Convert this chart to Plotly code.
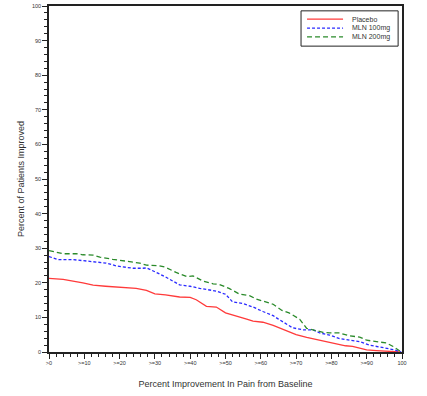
import plotly.graph_objects as go

placebo_x = [0, 4, 9.6, 12.5, 16, 21, 24.7, 27.6, 30, 33, 37, 40, 41.7, 44.6, 47.4, 50, 53, 56, 57.8, 60.6, 63.5, 66, 70, 73, 75.7, 78.6, 81.4, 84, 86, 88, 90, 92.7, 96.5, 99.5]
placebo_y = [21.3, 21.0, 20.0, 19.3, 19.0, 18.6, 18.4, 17.8, 16.8, 16.5, 15.9, 15.8, 15.1, 13.2, 13.0, 11.3, 10.5, 9.5, 8.9, 8.6, 7.7, 6.7, 5.0, 4.2, 3.6, 3.0, 2.2, 1.8, 1.6, 1.0, 0.6, 0.4, 0.2, 0.0]

mln100_x = [0, 2.5, 6.8, 10.6, 14.4, 16.2, 19, 23.8, 26.6, 27.6, 30.4, 33, 37, 40, 42.7, 45.5, 47.4, 50, 52, 55, 57.8, 60.6, 63.5, 65, 67, 69, 72, 74.8, 76.7, 79.5, 82.3, 85, 88, 90.8, 94.6, 97.5, 99.8]
mln100_y = [27.6, 26.7, 26.7, 26.3, 25.9, 25.7, 24.9, 24.2, 24.2, 24.3, 23.0, 21.7, 19.4, 19.0, 18.4, 17.8, 17.6, 16.7, 14.5, 14.0, 13.0, 11.7, 10.5, 9.5, 8.2, 7.0, 6.4, 6.4, 5.5, 4.9, 3.9, 3.4, 3.0, 2.0, 1.3, 0.7, 0.0]

mln200_x = [0, 4, 7.7, 9.6, 12.5, 14.4, 18, 21, 25.7, 27.6, 31.3, 33, 36, 39, 40.8, 43.6, 46.5, 48.3, 51, 54, 56.8, 58.7, 61.5, 63.5, 66, 68, 71, 73, 74.8, 77.6, 79.5, 82.3, 85, 88, 90, 93.7, 95.6, 97.5, 99.8]
mln200_y = [29.3, 28.4, 28.4, 28.1, 28.0, 27.4, 26.8, 26.3, 25.7, 25.1, 24.9, 24.5, 23.0, 21.8, 22.0, 20.5, 19.7, 19.5, 18.4, 16.7, 16.3, 15.3, 14.5, 13.8, 12.0, 11.3, 9.5, 6.8, 6.4, 5.7, 5.5, 5.5, 4.7, 4.3, 3.4, 3.0, 2.6, 1.6, 0.0]

x_tickvals = [0, 10, 20, 30, 40, 50, 60, 70, 80, 90, 100]
x_ticktext = [">0", ">=10", ">=20", ">=30", ">=40", ">=50", ">=60", ">=70", ">=80", ">=90", "100"]
y_tickvals = [0, 10, 20, 30, 40, 50, 60, 70, 80, 90, 100]

series_names = ["Placebo", "MLN 100mg", "MLN 200mg"]
series_colors = ["#ff3a3a", "#2a2aff", "#2a8a2a"]
series_dashes = ["solid", "3px,2px", "5px,3px"]
series_x = [placebo_x, mln100_x, mln200_x]
series_y = [placebo_y, mln100_y, mln200_y]

fig = go.Figure()
for name, xs, ys, col, dash in zip(series_names, series_x, series_y, series_colors, series_dashes):
    fig.add_trace(go.Scatter(x=xs, y=ys, mode="lines", name=name, showlegend=False,
                             line=dict(color=col, width=1.3, dash=dash)))

font_family = "Liberation Sans, Arial, sans-serif"

# Compact legend box (drawn in paper coordinates)
fig.add_shape(type="rect", xref="paper", yref="paper", x0=0.714, x1=0.989, y0=0.884, y1=0.986,
              line=dict(color="#222222", width=1), fillcolor="white")
legend_ys = [0.962, 0.936, 0.911]
for name, col, dash, ly in zip(series_names, series_colors, series_dashes, legend_ys):
    fig.add_shape(type="line", xref="paper", yref="paper", x0=0.731, x1=0.833, y0=ly, y1=ly,
                  line=dict(color=col, width=1.3, dash=dash))
    fig.add_annotation(xref="paper", yref="paper", x=0.853, y=ly, text=name, showarrow=False,
                       xanchor="left", yanchor="middle", font=dict(size=7, family=font_family, color="#333333"))

fig.update_layout(
    width=427, height=396,
    margin=dict(l=49, r=25, t=6, b=44),
    paper_bgcolor="white", plot_bgcolor="white",
    font=dict(family=font_family, color="#333333"),
    showlegend=False,
    xaxis=dict(range=[0, 100], tickmode="array", tickvals=x_tickvals, ticktext=x_ticktext,
               tickfont=dict(size=5.5), ticks="outside", ticklen=5, tickcolor="#222222",
               showline=True, linecolor="#222222", linewidth=1.5, mirror=True,
               showgrid=False, zeroline=False, automargin=False,
               minor=dict(tickmode="linear", tick0=0, dtick=2, ticks="outside", ticklen=3, tickcolor="#222222"),
               title=dict(text="Percent Improvement In Pain from Baseline", font=dict(size=9), standoff=15)),
    yaxis=dict(range=[0, 100], tickmode="array", tickvals=y_tickvals,
               tickfont=dict(size=5.5), ticks="outside", ticklen=5, tickcolor="#222222",
               showline=True, linecolor="#222222", linewidth=1.5, mirror=True,
               showgrid=False, zeroline=False, automargin=False,
               minor=dict(tickmode="linear", tick0=0, dtick=2, ticks="outside", ticklen=3, tickcolor="#222222"),
               title=dict(text="Percent of Patients Improved", font=dict(size=9), standoff=6)),
)

fig.write_html("out.html", config={"displayModeBar": False},
               post_script="document.body.style.margin='0';")
